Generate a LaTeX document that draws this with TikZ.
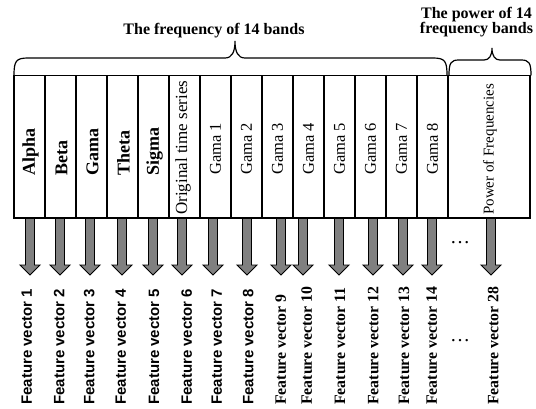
\documentclass[tikz,border=0pt]{standalone}
\usepackage{fontspec}
\setmainfont{Liberation Serif}
\newfontfamily\arialf{Liberation Sans}
\begin{document}
\begin{tikzpicture}[x=1pt,y=-1pt,
  colbox/.style={draw,line width=1.2pt,minimum height=142.5pt,inner sep=0pt,outer sep=0pt},
  biglab/.style={rotate=90,anchor=west,inner sep=0pt,font=\bfseries\fontsize{18}{18}\selectfont},
  gamlab/.style={rotate=90,anchor=west,inner sep=0pt,font=\fontsize{16.5}{16.5}\selectfont},
  featsans/.style={rotate=90,anchor=west,inner sep=0pt,font=\arialf\bfseries\fontsize{15}{15}\selectfont},
  featserif/.style={rotate=90,anchor=west,inner sep=0pt,font=\bfseries\fontsize{15.8}{15.8}\selectfont},
  fatarrow/.style={draw=black,fill=black!50,line width=0.9pt,line join=miter},
  bracestyle/.style={draw,line width=1.2pt},
  titlefont/.style={inner sep=0pt,font=\bfseries\fontsize{16}{15.5}\selectfont,align=center}]
\useasboundingbox (0,0) rectangle (536,408);

% arrows (drawn first, boxes over them)
\foreach \i/\ax in {1/30,2/60,3/90,4/122,5/153,6/182,7/213,8/247,9/281,10/303,11/339,12/373,13/403,14/432,15/491}{
  \coordinate (a\i) at (\ax,218);
  \path[fatarrow] (a\i) ++(-4.5,0) -- ++(0,47) -- ++(-5.5,0) -- ++(10,10) -- ++(10,-10) -- ++(-5.5,0) -- ++(0,-47) -- cycle;
}

% columns
\foreach \i in {1,...,14}{
  \node[colbox,minimum width=31pt] (c\i) at ({14+31*\i-15.5},146.75) {};
}
\node[colbox,minimum width=82pt] (c15) at (489,146.75) {};

% column labels
\node[biglab] (l1) at (30.5,176) {Alpha};
\node[biglab] (l2) at (61.5,176) {Beta};
\node[biglab] (l3) at (92.5,176) {Gama};
\node[biglab] (l4) at (123.5,176) {Theta};
\node[biglab] (l5) at (154.5,176) {Sigma};
\node[gamlab,font=\fontsize{17}{17}\selectfont] (l6) at (183,215) {Original time series};
\foreach \i/\n in {7/1,8/2,9/3,10/4,11/5,12/6,13/7,14/8}{
  \node[gamlab] (l\i) at ({14+31*\i-15.5},175) {Gama \n};
}
\node[gamlab,font=\fontsize{15}{15}\selectfont] (l15) at (490,215) {Power of Frequencies};

% feature vector labels
\foreach \i/\lx in {1/26.7,2/59.3,3/89.3,4/120.7,5/154,6/186.7,7/216.7,8/248.3}{
  \node[featsans] (f\i) at (\lx,405) {Feature vector \i};
}
\foreach \i/\n/\lx in {9/9/280.7,10/10/306.7,11/11/340,12/12/373.3,13/13/404,14/14/431.7,15/28/493.3}{
  \node[featserif] (f\i) at (\lx,405) {Feature vector \n};
}

% dots
\node[inner sep=0pt,font=\fontsize{20}{20}\selectfont] (d1) at (460,243) {…};
\node[inner sep=0pt,font=\fontsize{20}{20}\selectfont] (d2) at (460,341) {…};

% braces
\path[bracestyle] (14,75.5) .. controls (14,61) and (16,58) .. (28,58) -- (225,58)
  .. controls (232,58) and (235,52) .. (235,41)
  .. controls (235,52) and (238,58) .. (245,58) -- (433,58)
  .. controls (445,58) and (447,61) .. (447,75.5);
\path[bracestyle] (449,75.5) .. controls (449,62.5) and (451,60) .. (459,60) -- (484,60)
  .. controls (489,60) and (492,56) .. (492,48)
  .. controls (492,56) and (495,60) .. (500,60) -- (521,60)
  .. controls (529,60) and (531,62.5) .. (531,75.5);

% titles
\node[titlefont,anchor=base] (t1) at (214,34.5) {The frequency of 14 bands};
\node[titlefont,anchor=base] (t2) at (476.5,18) {The power of 14};
\node[titlefont,anchor=base] (t3) at (476.5,33.5) {frequency bands};
\end{tikzpicture}
\end{document}
